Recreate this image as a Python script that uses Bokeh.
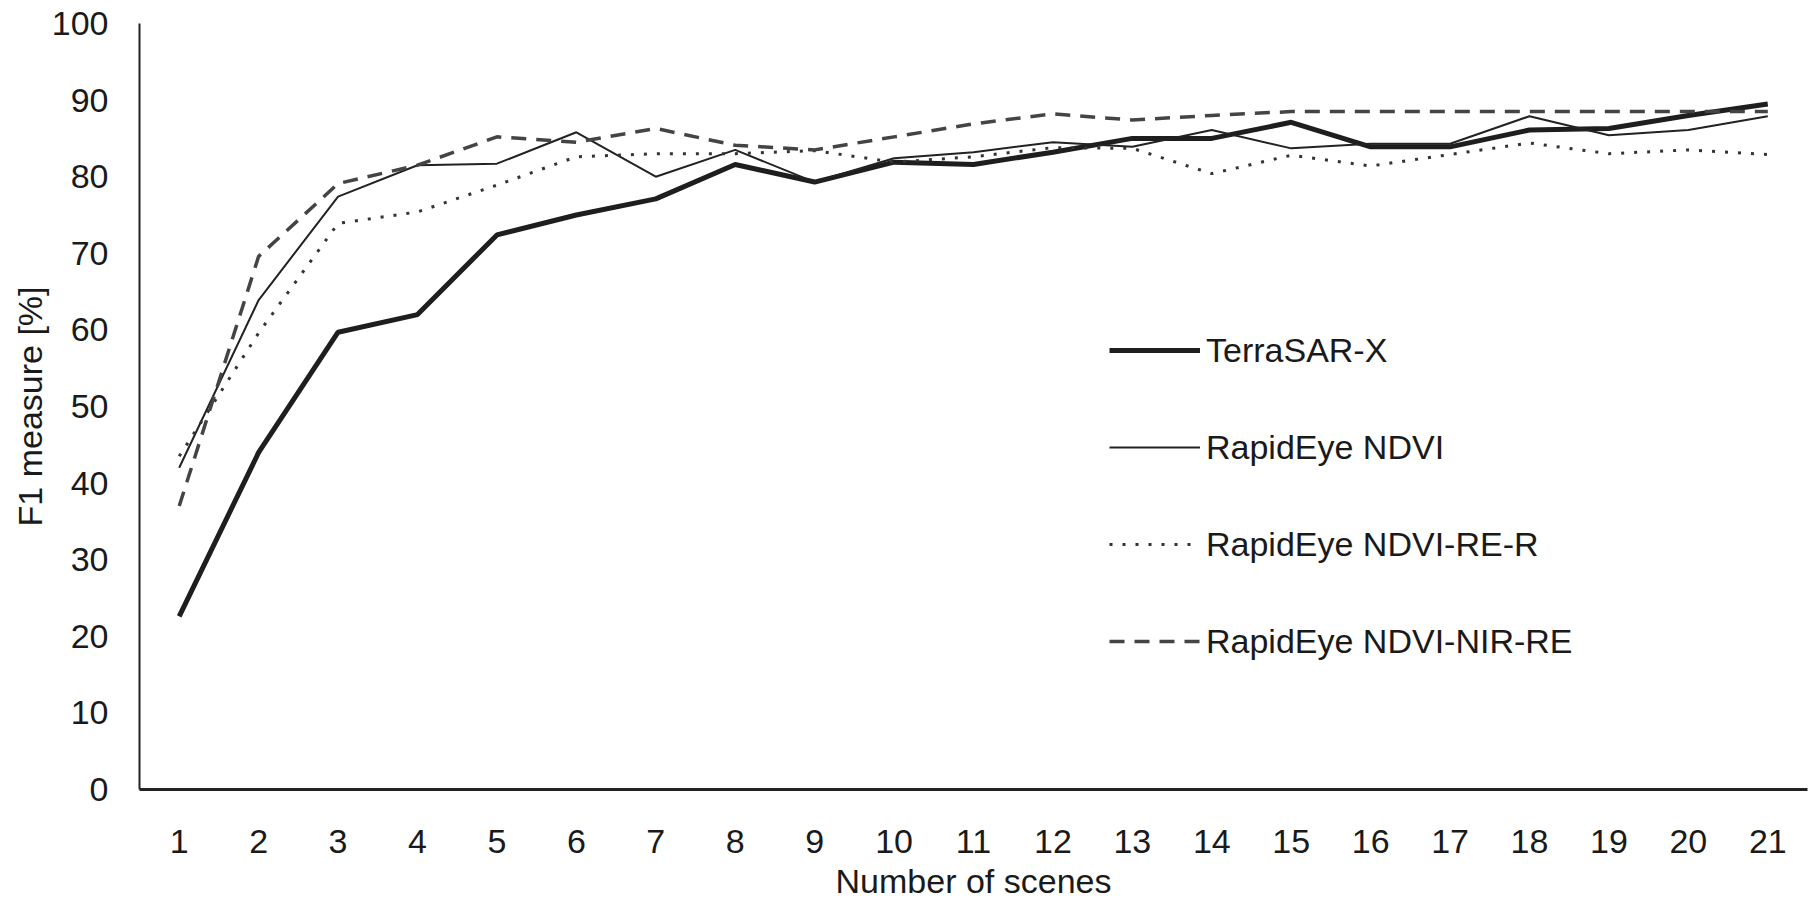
from bokeh.plotting import figure
from bokeh.models import Range1d, FactorRange, Legend, LegendItem, FixedTicker
from bokeh.embed import file_html
from bokeh.resources import INLINE

scenes = [str(i) for i in range(1, 22)]
terrasar_x = [22.6, 44.0, 59.7, 62.0, 72.4, 75.0, 77.1, 81.6, 79.3, 81.9, 81.6,
              83.2, 85.0, 85.0, 87.1, 83.9, 83.9, 86.1, 86.3, 88.0, 89.5]
rapideye_ndvi = [42.0, 63.9, 77.4, 81.5, 81.7, 85.8, 80.0, 83.5, 79.3, 82.4, 83.2,
                 84.5, 83.9, 86.1, 83.7, 84.3, 84.3, 87.9, 85.4, 86.1, 87.9]
rapideye_ndvi_re_r = [43.5, 59.6, 73.9, 75.4, 78.9, 82.6, 83.0, 83.0, 83.4, 81.9, 82.6,
                      83.8, 83.7, 80.4, 82.8, 81.4, 82.9, 84.4, 83.0, 83.5, 82.9]
rapideye_ndvi_nir_re = [37.0, 69.6, 79.1, 81.5, 85.2, 84.5, 86.3, 84.1, 83.5, 85.2, 86.9,
                        88.2, 87.4, 88.0, 88.5, 88.5, 88.5, 88.5, 88.5, 88.5, 88.5]
y_ticks = list(range(0, 101, 10))

FONT = "Liberation Sans"
FS = "34px"

p = figure(width=1810, height=902, x_range=FactorRange(*scenes, range_padding=0),
           y_range=Range1d(0, 100), output_backend="svg", toolbar_location=None,
           min_border_left=139, min_border_right=3, min_border_top=23, min_border_bottom=0)
p.outline_line_color = None
p.xgrid.grid_line_color = None
p.ygrid.grid_line_color = None
p.background_fill_color = "white"

for ax in (p.xaxis[0], p.yaxis[0]):
    ax.major_tick_line_color = None
    ax.minor_tick_line_color = None
    ax.major_tick_out = 0
    ax.major_tick_in = 0
    ax.major_label_text_font = FONT
    ax.major_label_text_font_size = FS
    ax.major_label_text_color = "#1a1a1a"
    ax.axis_label_text_font = FONT
    ax.axis_label_text_font_size = FS
    ax.axis_label_text_font_style = "normal"
    ax.axis_label_text_color = "#1a1a1a"
    ax.axis_line_color = "#222222"

p.yaxis.ticker = FixedTicker(ticks=y_ticks)
p.yaxis.axis_line_width = 2
p.yaxis.major_label_standoff = 31
p.yaxis.axis_label = "F1 measure [%]"
p.yaxis.axis_label_standoff = 0
p.xaxis.axis_line_width = 3
p.xaxis.major_label_standoff = 40
p.xaxis.axis_label = "Number of scenes"
p.xaxis.axis_label_standoff = 6

r1 = p.line(scenes, terrasar_x, line_color="#1e1e1e", line_width=5)
r2 = p.line(scenes, rapideye_ndvi, line_color="#222222", line_width=2)
r3 = p.line(scenes, rapideye_ndvi_re_r, line_color="#333333", line_width=3, line_dash="3 10")
r4 = p.line(scenes, rapideye_ndvi_nir_re, line_color="#444444", line_width=3.5, line_dash="15 10")

legend = Legend(items=[
    LegendItem(label="TerraSAR-X", renderers=[r1]),
    LegendItem(label="RapidEye NDVI", renderers=[r2]),
    LegendItem(label="RapidEye NDVI-RE-R", renderers=[r3]),
    LegendItem(label="RapidEye NDVI-NIR-RE", renderers=[r4]),
], location=(970, 128))
legend.border_line_color = None
legend.background_fill_alpha = 0
legend.padding = 0
legend.margin = 0
legend.glyph_width = 91
legend.glyph_height = 40
legend.label_height = 40
legend.spacing = 57
legend.label_standoff = 6
legend.label_text_font = FONT
legend.label_text_font_size = FS
legend.label_text_color = "#1a1a1a"
p.add_layout(legend, "center")

open("out.html", "w").write(file_html(p, INLINE))
